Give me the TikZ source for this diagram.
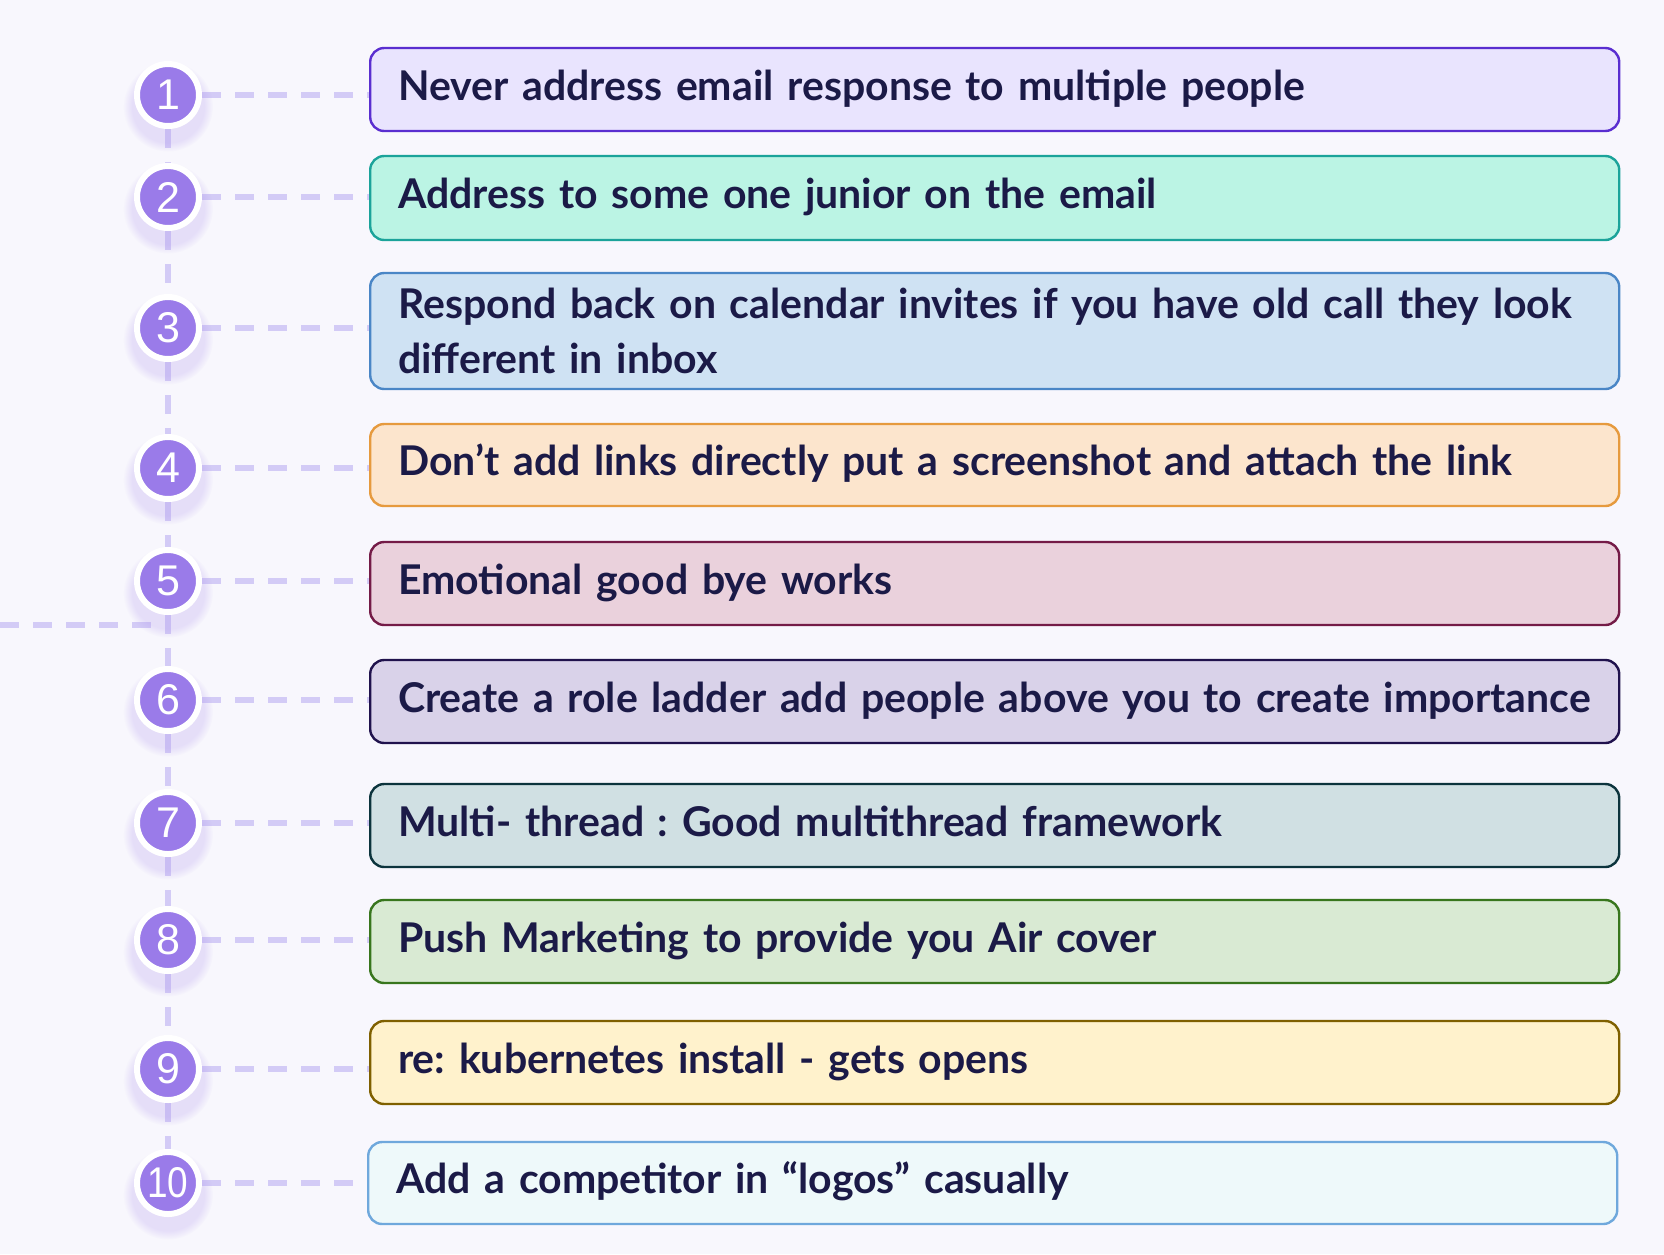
\documentclass[tikz,border=0pt]{standalone}
\usepackage{fontspec}
\usepackage{tikz}
\usetikzlibrary{shadows,backgrounds}
\setmainfont{Lato}
\newfontfamily\numfont{Liberation Sans}
\frenchspacing
\definecolor{pagebg}{HTML}{F8F7FD}
\definecolor{numfill}{HTML}{9A7BE9}
\definecolor{dashc}{HTML}{D3CBF6}
\definecolor{inkc}{HTML}{1B1A47}
\definecolor{fillA}{HTML}{E9E4FE}
\definecolor{lineA}{HTML}{5A2ED0}
\definecolor{fillB}{HTML}{BBF4E4}
\definecolor{lineB}{HTML}{1BA39A}
\definecolor{fillC}{HTML}{CFE2F3}
\definecolor{lineC}{HTML}{4A86C6}
\definecolor{fillD}{HTML}{FCE5CD}
\definecolor{lineD}{HTML}{E69A3E}
\definecolor{fillE}{HTML}{EAD1DC}
\definecolor{lineE}{HTML}{741B47}
\definecolor{fillF}{HTML}{D9D2E9}
\definecolor{lineF}{HTML}{20124D}
\definecolor{fillG}{HTML}{D0E0E3}
\definecolor{lineG}{HTML}{0C343D}
\definecolor{fillH}{HTML}{D9EAD3}
\definecolor{lineH}{HTML}{38761D}
\definecolor{fillI}{HTML}{FFF2CC}
\definecolor{lineI}{HTML}{7F6000}
\definecolor{fillJ}{HTML}{EEF9FA}
\definecolor{lineJ}{HTML}{6FA8DC}

\tikzset{
  numdot/.style={circle, fill=numfill, draw=white, line width=6pt,
    minimum size=62pt, inner sep=0pt, text=white,
    font=\numfont\fontsize{43}{43}\selectfont,
    circular drop shadow={shadow xshift=0pt, shadow yshift=-8pt,
      shadow scale=1.45, fill=numfill!80, opacity=.25,
      path fading=circle with fuzzy edge 20 percent}},
  tipbox/.style={rounded corners=14pt, line width=2.4pt, anchor=west,
    minimum width=1249pt, text width=1193pt, inner xsep=28pt, align=left,
    text=inkc, font=\bfseries\fontsize{41}{55}\selectfont,
    text height=30pt, text depth=9pt},
  link/.style={dashc, line width=5.5pt, dash pattern=on 19pt off 14pt},
}

\begin{document}
\begin{tikzpicture}[x=1pt, y=-1pt]
        \begin{scope}[on background layer]
          \fill[pagebg] (0,0) rectangle (1664,1254);
        \end{scope}
        \useasboundingbox (0,0) rectangle (1664,1254);

        % numbered dots
        \node[numdot] (c1)  at (168,95)   {1};
        \node[numdot] (c2)  at (168,197)  {2};
        \node[numdot] (c3)  at (168,328)  {3};
        \node[numdot] (c4)  at (168,468)  {4};
        \node[numdot] (c5)  at (168,581)  {5};
        \node[numdot] (c6)  at (168,700)  {6};
        \node[numdot] (c7)  at (168,823)  {7};
        \node[numdot] (c8)  at (168,940)  {8};
        \node[numdot] (c9)  at (168,1069) {9};
        \node[numdot] (c10) at (168,1183) {\scalebox{.86}[1]{10}};

        % tips
        \node[tipbox, fill=fillA, draw=lineA, minimum height=83pt] (b1) at (369,89.5)
          {Never address email response to multiple people};
        \node[tipbox, fill=fillB, draw=lineB, minimum height=84pt] (b2) at (369,198)
          {Address to some one junior on the email};
        \node[tipbox, fill=fillC, draw=lineC, minimum height=116pt,
              text height=, text depth=] (b3) at (369,331)
          {Respond back on calendar invites if you have old call they look\\different in inbox};
        \node[tipbox, fill=fillD, draw=lineD, minimum height=82pt] (b4) at (369,465)
          {Don’t add links directly put a screenshot and attach the link};
        \node[tipbox, fill=fillE, draw=lineE, minimum height=83pt] (b5) at (369,583.5)
          {Emotional good bye works};
        \node[tipbox, fill=fillF, draw=lineF, minimum height=83pt] (b6) at (369,701.5)
          {Create a role ladder add people above you to create importance};
        \node[tipbox, fill=fillG, draw=lineG, minimum height=83pt] (b7) at (369,825.5)
          {Multi- thread : Good multithread framework};
        \node[tipbox, fill=fillH, draw=lineH, minimum height=83pt] (b8) at (369,941.5)
          {Push Marketing to provide you Air cover};
        \node[tipbox, fill=fillI, draw=lineI, minimum height=83pt] (b9) at (369,1062.5)
          {re: kubernetes install - gets opens};
        \node[tipbox, fill=fillJ, draw=lineJ, minimum height=82pt] (b10) at (367,1183)
          {Add a competitor in “logos” casually};

        \coordinate (edge) at (0,625);

        % dashed links
        \begin{scope}[on background layer]
          \draw[link] (c1) -- (c2) -- (c3) -- (c4) -- (c5) -- (c6)
            -- (c7) -- (c8) -- (c9) -- (c10);
          \draw[link] (edge) -- (edge -| c6);
          \draw[link] (c1.east) -- (c1 -| b1.west);
          \draw[link] (c2.east) -- (c2 -| b2.west);
          \draw[link] (c3.east) -- (c3 -| b3.west);
          \draw[link] (c4.east) -- (c4 -| b4.west);
          \draw[link] (c5.east) -- (c5 -| b5.west);
          \draw[link] (c6.east) -- (c6 -| b6.west);
          \draw[link] (c7.east) -- (c7 -| b7.west);
          \draw[link] (c8.east) -- (c8 -| b8.west);
          \draw[link] (c9.east) -- (c9 -| b9.west);
          \draw[link] (c10.east) -- (c10 -| b10.west);
        \end{scope}
      \end{tikzpicture}
\end{document}
